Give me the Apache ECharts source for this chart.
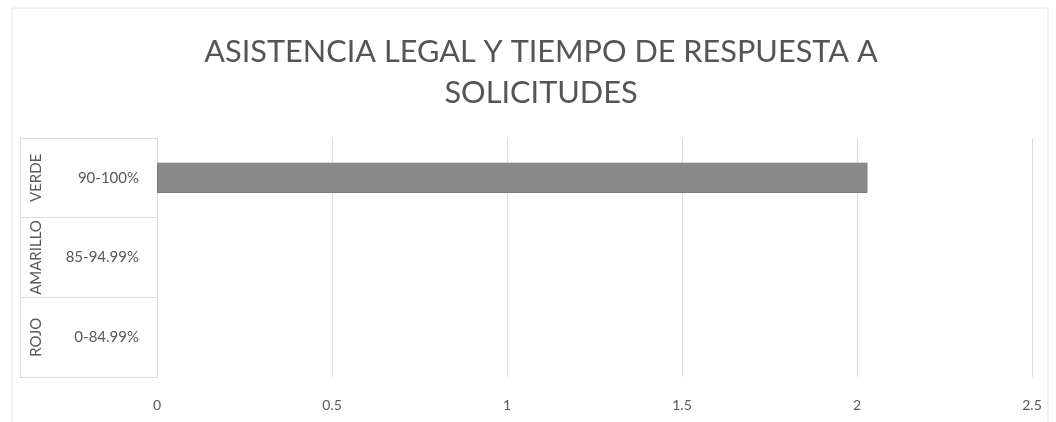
<!DOCTYPE html>
<html><head><meta charset="utf-8">
<script src="https://cdn.jsdelivr.net/npm/echarts@6/dist/echarts.min.js"></script>
<style>html,body{margin:0;padding:0;background:#fff}#c{width:1056px;height:422px}</style>
</head><body><div id="c"></div>
<script>
const innerCategories = ['0-84.99%', '85-94.99%', '90-100%'];
const outerCategories = ['ROJO', 'AMARILLO', 'VERDE'];
const values = [null, null, 2.03];
const xTicks = [0, 0.5, 1, 1.5, 2, 2.5];
const titleLines = ['ASISTENCIA LEGAL Y TIEMPO DE RESPUESTA A', 'SOLICITUDES'];

const font = 'Lato, "Liberation Sans", sans-serif';
const chart = echarts.init(document.getElementById('c'));
chart.setOption({
  backgroundColor: '#fff',
  animation: false,
  title: {
    text: titleLines.join('\n'),
    left: 536, top: 27, textAlign: 'center',
    textStyle: { fontFamily: font, fontSize: 30.7, fontWeight: 'normal', color: '#555555', lineHeight: 41 }
  },
  graphic: [{
    type: 'rect', shape: { x: 12, y: 8, width: 1036, height: 440 },
    style: { fill: 'none', stroke: '#e6e6e6', lineWidth: 1 }, silent: true
  }],
  grid: { left: 157, right: 24, top: 138, bottom: 45, containLabel: false },
  xAxis: {
    type: 'value', min: xTicks[0], max: xTicks[xTicks.length - 1], interval: 0.5,
    axisLine: { show: false }, axisTick: { show: false },
    axisLabel: { color: '#595959', fontFamily: font, fontSize: 14, margin: 21 },
    splitLine: { show: true, lineStyle: { color: '#dcdcdc', width: 1 } }
  },
  yAxis: [{
    type: 'category', data: innerCategories, position: 'left',
    axisLine: { show: true, lineStyle: { color: '#d9d9d9' } },
    axisTick: { show: true, length: 137, lineStyle: { color: '#dcdcdc' } },
    axisLabel: { interval: 0, color: '#595959', fontFamily: font, fontSize: 15, margin: 18 },
    splitLine: { show: false }
  }, {
    type: 'category', data: outerCategories, position: 'left', offset: 137,
    axisLine: { show: true, lineStyle: { color: '#dcdcdc' } },
    axisTick: { show: false },
    axisLabel: { interval: 0, hideOverlap: false, inside: true, rotate: 90, color: '#595959', fontFamily: font, fontSize: 15, margin: 9 },
    splitLine: { show: false }
  }],
  series: [{
    type: 'bar', data: values, yAxisIndex: 0, barWidth: '38%',
    itemStyle: { color: '#8a8a8a', borderColor: '#7a7a7a', borderWidth: 1 }
  }]
});
</script></body></html>
